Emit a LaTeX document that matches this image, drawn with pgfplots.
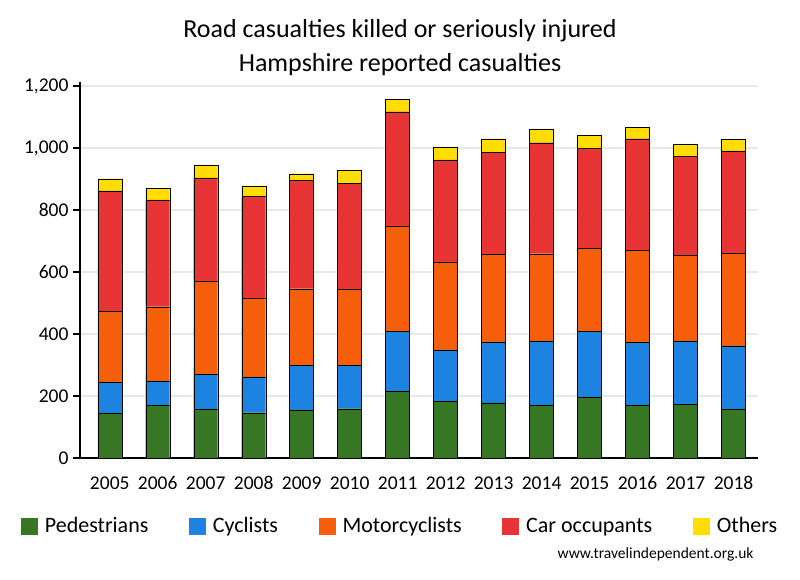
\documentclass[border=0pt]{standalone}
\usepackage{fontspec}
\setmainfont{Carlito}
\usepackage{pgfplots}
\pgfplotsset{compat=1.18}
\definecolor{cped}{RGB}{55,118,35}
\definecolor{ccyc}{RGB}{28,131,225}
\definecolor{cmot}{RGB}{245,95,10}
\definecolor{ccar}{RGB}{232,52,52}
\definecolor{coth}{RGB}{255,221,0}
\definecolor{cgrid}{RGB}{232,232,232}
\begin{document}
\begin{tikzpicture}[x=1bp,y=1bp]
\path[use as bounding box] (0,0) rectangle (800,580);
\begin{axis}[
  at={(80bp,122bp)}, anchor=south west,
  scale only axis, width=678bp, height=376bp,
  xmin=-0.62, xmax=13.51, ymin=0, ymax=1213,
  ybar stacked, bar width=24bp,
  axis x line*=bottom, axis y line*=left,
  axis line style={-, line width=1.3bp, black},
  xtick={0,...,13},
  xticklabels={2005,2006,2007,2008,2009,2010,2011,2012,2013,2014,2015,2016,2017,2018},
  ytick={0,200,...,1200},
  x tick style={draw=none},
  y tick style={line width=1.3bp, black},
  tick align=outside, major tick length=7bp,
  ymajorgrids, grid style={cgrid, line width=1.3bp},
  /pgf/number format/assume math mode=true,
  /pgf/number format/1000 sep={,},
  ticklabel style={font=\fontsize{19.5bp}{22bp}\selectfont},
  xticklabel style={yshift=-8bp},
  yticklabel style={xshift=-1bp},
  every bar/.append style={draw=black, line width=0.9bp},
  legend style={at={(rel axis cs:0.472,-0.181)}, anchor=center, draw=none,
    font=\fontsize{22bp}{26bp}\selectfont, legend columns=5,
    /tikz/every odd column/.append style={column sep=5bp},
    /tikz/every even column/.append style={column sep=38.5bp}},
  legend image code/.code={\fill[#1,draw=none] (0bp,-8.5bp) rectangle (17bp,8.5bp);},
]
\addplot[fill=cped] coordinates {(0,143) (1,169) (2,156) (3,146) (4,153) (5,159) (6,214) (7,182) (8,178) (9,169) (10,195) (11,169) (12,172) (13,156)};
\addplot[fill=ccyc] coordinates {(0,100) (1,80) (2,113) (3,116) (4,145) (5,139) (6,194) (7,167) (8,197) (9,209) (10,213) (11,203) (12,206) (13,206)};
\addplot[fill=cmot] coordinates {(0,229) (1,239) (2,300) (3,252) (4,248) (5,245) (6,341) (7,284) (8,281) (9,281) (10,270) (11,297) (12,275) (13,300)};
\addplot[fill=ccar] coordinates {(0,390) (1,345) (2,335) (3,329) (4,349) (5,342) (6,368) (7,329) (8,329) (9,358) (10,320) (11,361) (12,319) (13,329)};
\addplot[fill=coth] coordinates {(0,39) (1,36) (2,42) (3,35) (4,22) (5,42) (6,39) (7,42) (8,45) (9,45) (10,42) (11,36) (12,39) (13,36)};
\legend{Pedestrians,Cyclists,Motorcyclists,Car occupants,Others}
\end{axis}
\node[align=center, font=\fontsize{26bp}{34bp}\selectfont] at (400,532) {Road casualties killed or seriously injured\\Hampshire reported casualties};
\node[anchor=east, font=\fontsize{15.5bp}{18bp}\selectfont] at (757,26) {www.travelindependent.org.uk};
\end{tikzpicture}
\end{document}
